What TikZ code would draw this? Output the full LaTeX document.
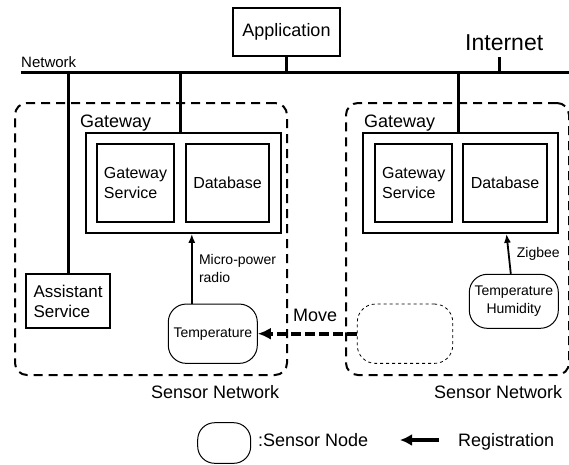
\documentclass[tikz,border=0pt]{standalone}
\usepackage{fontspec}
\setmainfont{Liberation Sans}
\usepackage{tikz}
\usetikzlibrary{arrows.meta}
\tikzset{
    block/.style={
           rectangle,
           draw=black, line width=1.8pt,
           inner sep=0pt,
           text centered,
           },
    sensor/.style={
           rectangle,
           rounded corners=18pt,
           draw=black, line width=1pt,
           inner sep=0pt,
           align=center,
           font=\fontsize{14}{17.7}\selectfont,
           },
    region/.style={
           rectangle,
           rounded corners=12pt,
           draw=black, line width=2pt,
           dash pattern=on 9pt off 6pt,
           },
    wire/.style={line width=3pt},
    txt/.style={anchor=base west, inner sep=0pt},
    >={Latex[length=9pt,width=7pt]},
}

\begin{document}
\begin{tikzpicture}[x=1pt, y=-1pt]
    \useasboundingbox (0,0) rectangle (569,464);

    % Sensor network areas (dashed)
    \node[region, minimum width=272pt, minimum height=272pt] (snL) at (151,239) {};
    \node[region, minimum width=223pt, minimum height=272pt] (snR) at (457.5,239) {};

    % Application on the internet
    \node[block,   	% layout (defined above)
    minimum width=107pt, minimum height=48pt,
    font=\fontsize{18}{21}\selectfont] (app) at (286.5,32) {Application};

    % Gateways with their services and databases
    \node[block, minimum width=195pt, minimum height=100pt] (gwL) at (183.4,182.9) {};
    \node[block, minimum width=77.6pt, minimum height=77.4pt, align=left,
    font=\fontsize{16}{19.5}\selectfont] (svcL) at (135.5,183) {Gateway\\Service};
    \node[block, minimum width=83.6pt, minimum height=77.4pt,
    font=\fontsize{16}{19.5}\selectfont] (dbL) at (227.5,183) {Database};

    \node[block, minimum width=195.6pt, minimum height=100pt] (gwR) at (460.5,182.9) {};
    \node[block, minimum width=77.3pt, minimum height=77.4pt, align=left,
    font=\fontsize{16}{19.5}\selectfont] (svcR) at (413.7,183) {Gateway\\Service};
    \node[block, minimum width=83.4pt, minimum height=77.4pt,
    font=\fontsize{16}{19.5}\selectfont] (dbR) at (505,183) {Database};

    % Assistant service
    \node[block, minimum width=84pt, minimum height=54.3pt, align=left,
    font=\fontsize{17}{20}\selectfont] (asst) at (68,301.2) {Assistant\\Service};

    % Sensor nodes
    \node[sensor, minimum width=89pt, minimum height=59.3pt] (tempL) at (212.8,333.7) {Temperature};
    \node[sensor, dashed, line width=0.8pt, minimum width=95.4pt, minimum height=59.3pt] (ghost) at (405,333.7) {};
    \node[sensor, minimum width=89pt, minimum height=54pt] (thR) at (513.8,301.3) {Temperature\\Humidity};

    % Texts
    \node[txt, font=\fontsize{15}{18}\selectfont] (net) at (21,67) {Network};
    \node[txt, font=\fontsize{23}{27}\selectfont] (inet) at (465,50) {Internet};
    \node[txt, font=\fontsize{18}{21}\selectfont] (gwtxtL) at (80,127.5) {Gateway};
    \node[txt, font=\fontsize{18}{21}\selectfont] (gwtxtR) at (364,127.5) {Gateway};
    \node[txt, font=\fontsize{18}{21}\selectfont] (sntxtL) at (151,398) {Sensor Network};
    \node[txt, font=\fontsize{18}{21}\selectfont] (sntxtR) at (434,398) {Sensor Network};
    \node[txt, font=\fontsize{18}{21}\selectfont] (move) at (293,321.5) {Move};

    % Legend
    \node[sensor, rounded corners=17pt, minimum width=53pt, minimum height=40.6pt] (legnode) at (224.2,443) {};
    \node[txt, font=\fontsize{18}{21}\selectfont] (legtxt) at (258,446) {:Sensor Node};
    \node[txt, font=\fontsize{18}{21}\selectfont] (regtxt) at (458,446) {Registration};
    \coordinate (regA) at (439,440);
    \coordinate (regB) at (400,440);

    % Network bus
    \coordinate (busL) at (20.5,72.5);
    \coordinate (busR) at (569,72.5);
    \coordinate (inetstem) at (499.3,57);
    \draw[wire] (busL) -- (busR);
    \draw[wire] (app.south) -- (app.south |- busL);
    \draw[wire] (inetstem) -- (inetstem |- busL);
    \draw[wire] (asst.north) -- (asst.north |- busL);
    \draw[wire] ([xshift=-3pt]gwL.north) -- ([xshift=-3pt]gwL.north |- busL);
    \draw[wire] ([xshift=-2pt]gwR.north) -- ([xshift=-2pt]gwR.north |- busL);

    % draw the registration and move arrows
    \path
        ([xshift=-21pt]tempL.north)  edge[->, line width=1.8pt]
            node[right, align=left, font=\fontsize{14}{17.5}\selectfont, xshift=3pt] {Micro-power\\radio}
        ([xshift=-21pt]tempL.north |- gwL.south)

        ([xshift=-3pt]thR.north)  edge[->, line width=1.8pt]
            node[right, font=\fontsize{14}{17}\selectfont, xshift=4pt] {Zigbee}
        ([xshift=46pt]gwR.south)

        (ghost.west)  edge[->, line width=4pt, dash pattern=on 10pt off 4pt,
            >={Latex[length=13pt,width=12pt]}]
        (tempL.east)

        (regA)  edge[->, line width=4pt, >={Latex[length=12pt,width=12pt]}]
        (regB);
\end{tikzpicture}
\end{document}
